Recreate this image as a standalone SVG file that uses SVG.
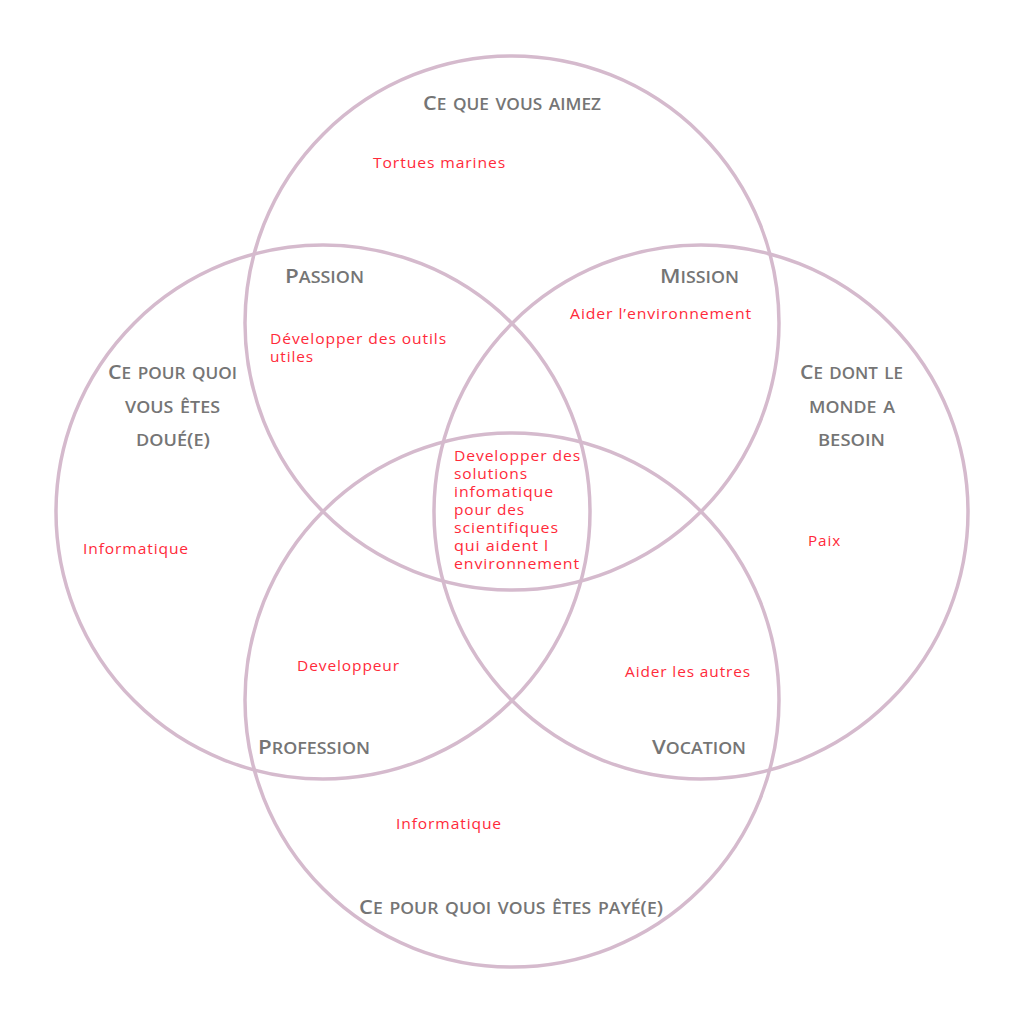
<svg xmlns="http://www.w3.org/2000/svg" width="1024" height="1024" viewBox="0 0 1024 1024">
<style>
.c{fill:none;stroke:#d5bacd;stroke-width:3.5}
.h{font-family:"Open Sans","Noto Sans",sans-serif;font-weight:600;font-variant:small-caps;font-size:23.5px;fill:#757575}
.h .k{font-size:20px}
.h .p{font-size:18px}
.t{font-family:"Open Sans","Lato",sans-serif;font-size:14px;fill:#ff2a3a;letter-spacing:0.8px}
</style>
<rect width="1024" height="1024" fill="#ffffff"/>
<g id="circles">
<circle id="c-top" class="c" cx="512" cy="323" r="267"/>
<circle id="c-left" class="c" cx="323" cy="512" r="267"/>
<circle id="c-right" class="c" cx="701" cy="512" r="267"/>
<circle id="c-bottom" class="c" cx="512" cy="700" r="267"/>
</g>
<g id="top">
<text class="h" x="423" y="110" textLength="178" lengthAdjust="spacingAndGlyphs"><tspan class="k">C</tspan>e que vous aimez</text>
<text class="t" x="373" y="168" textLength="133" lengthAdjust="spacingAndGlyphs">Tortues marines</text>
</g>
<g id="passion">
<text class="h" x="285" y="283" textLength="79" lengthAdjust="spacingAndGlyphs"><tspan class="k">P</tspan>assion</text>
<text class="t" x="270" y="344" textLength="177" lengthAdjust="spacingAndGlyphs">Développer des outils</text>
<text class="t" x="270" y="362" textLength="44" lengthAdjust="spacingAndGlyphs">utiles</text>
</g>
<g id="mission">
<text class="h" x="660" y="283" textLength="79" lengthAdjust="spacingAndGlyphs"><tspan class="k">M</tspan>ission</text>
<text class="t" x="570" y="319" textLength="182" lengthAdjust="spacingAndGlyphs">Aider l’environnement</text>
</g>
<g id="left">
<text class="h" x="108" y="379" textLength="129" lengthAdjust="spacingAndGlyphs"><tspan class="k">C</tspan>e pour quoi</text>
<text class="h" x="125" y="413" textLength="95" lengthAdjust="spacingAndGlyphs">vous êtes</text>
<text class="h" x="136" y="446" textLength="74" lengthAdjust="spacingAndGlyphs">doué<tspan class="p">(</tspan>e<tspan class="p">)</tspan></text>
<text class="t" x="83" y="554" textLength="106" lengthAdjust="spacingAndGlyphs">Informatique</text>
</g>
<g id="right">
<text class="h" x="800" y="379" textLength="103" lengthAdjust="spacingAndGlyphs"><tspan class="k">C</tspan>e dont le</text>
<text class="h" x="809" y="413" textLength="86" lengthAdjust="spacingAndGlyphs">monde a</text>
<text class="h" x="818" y="446" textLength="67" lengthAdjust="spacingAndGlyphs">besoin</text>
<text class="t" x="808" y="546" textLength="33" lengthAdjust="spacingAndGlyphs">Paix</text>
</g>
<g id="center">
<text class="t" x="454" y="461" textLength="127" lengthAdjust="spacingAndGlyphs">Developper des</text>
<text class="t" x="454" y="479" textLength="74" lengthAdjust="spacingAndGlyphs">solutions</text>
<text class="t" x="454" y="497" textLength="100" lengthAdjust="spacingAndGlyphs">infomatique</text>
<text class="t" x="454" y="515" textLength="71" lengthAdjust="spacingAndGlyphs">pour des</text>
<text class="t" x="454" y="533" textLength="105" lengthAdjust="spacingAndGlyphs">scientifiques</text>
<text class="t" x="454" y="551" textLength="95" lengthAdjust="spacingAndGlyphs">qui aident l</text>
<text class="t" x="454" y="569" textLength="126" lengthAdjust="spacingAndGlyphs">environnement</text>
</g>
<g id="profession">
<text class="t" x="297" y="671" textLength="103" lengthAdjust="spacingAndGlyphs">Developpeur</text>
<text class="h" x="258" y="754" textLength="112" lengthAdjust="spacingAndGlyphs"><tspan class="k">P</tspan>rofession</text>
</g>
<g id="vocation">
<text class="t" x="625" y="677" textLength="126" lengthAdjust="spacingAndGlyphs">Aider les autres</text>
<text class="h" x="652" y="754" textLength="94" lengthAdjust="spacingAndGlyphs"><tspan class="k">V</tspan>ocation</text>
</g>
<g id="bottom">
<text class="t" x="396" y="829" textLength="106" lengthAdjust="spacingAndGlyphs">Informatique</text>
<text class="h" x="359" y="914" textLength="304" lengthAdjust="spacingAndGlyphs"><tspan class="k">C</tspan>e pour quoi vous êtes payé<tspan class="p">(</tspan>e<tspan class="p">)</tspan></text>
</g>
</svg>
